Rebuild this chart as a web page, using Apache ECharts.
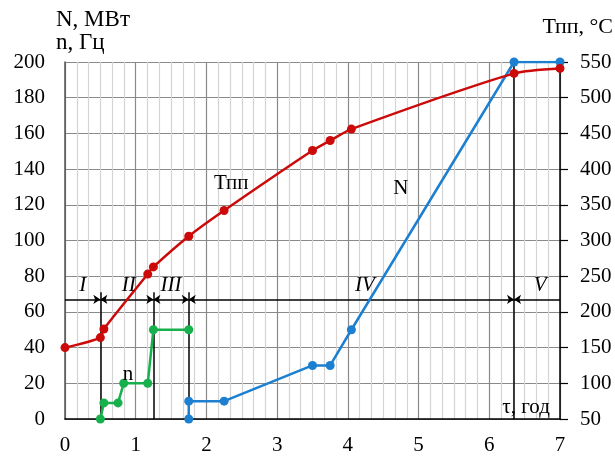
<!DOCTYPE html>
<html>
<head>
<meta charset="utf-8">
<script src="https://cdn.jsdelivr.net/npm/echarts@6/dist/echarts.min.js"></script>
<style>
  html, body { margin: 0; padding: 0; background: #fff; }
  #chart { width: 615px; height: 458px; }
</style>
</head>
<body>
<div id="chart"></div>
<script>
// Start-up of the unit: steam temperature, rotor speed and power versus time
const tppTime = [0, 0.5, 0.55, 1.17, 1.25, 1.75, 2.25, 3.5, 3.75, 4.05, 6.35, 7];
const tppTemp = [150, 164, 176, 253, 263, 306, 342, 426, 440, 456, 534, 541];

const speedTime = [0.5, 0.55, 0.75, 0.83, 1.17, 1.25, 1.75];
const speedHz = [0, 9, 9, 20, 20, 50, 50];

const powerTime = [1.75, 1.75, 2.25, 3.5, 3.75, 4.05, 6.35, 7];
const powerMW = [0, 10, 10, 30, 30, 50, 200, 200];

// Stage boundaries and the stage bar level (left axis units)
const stageBounds = [0.5, 1.25, 1.75, 6.35];
const stageFullHeight = [false, false, false, true];
const stageLevel = 67;
const stageTickTop = 71;
const stageNames = ['I', 'II', 'III', 'IV', 'V'];
const stageLabelX = [0.25, 0.9, 1.5, 4.24, 6.72];
const stageLabelY = 75;

// Axis ranges and ticks
const xTicks = [0, 1, 2, 3, 4, 5, 6, 7];
const leftTicks = [0, 20, 40, 60, 80, 100, 120, 140, 160, 180, 200];
const rightTicks = [50, 100, 150, 200, 250, 300, 350, 400, 450, 500, 550];

// Curve captions placed in data coordinates
const captions = [
  { text: 'Тпп', x: 2.35, y: 132 },
  { text: 'n', x: 0.89, y: 25 },
  { text: 'N', x: 4.75, y: 129 },
  { text: 'τ, год', x: 6.52, y: 6.5 }
];

const RED = '#cc0a0a';
const BLUE = '#1c7fd0';
const GREEN = '#16b04c';
const FONT = '"Liberation Serif", "Times New Roman", serif';

const zip = (xs, ys) => xs.map((x, i) => [x, ys[i]]);

const chart = echarts.init(document.getElementById('chart'), null, { renderer: 'canvas' });

// Stage bar: segments between boundaries, arrowheads pointing at each boundary
const barEdges = [0].concat(stageBounds, [7]);
const stageSegments = [];
for (let i = 0; i < barEdges.length - 1; i++) {
  stageSegments.push([
    { coord: [barEdges[i], stageLevel], symbol: i === 0 ? 'none' : 'arrow' },
    { coord: [barEdges[i + 1], stageLevel], symbol: i === barEdges.length - 2 ? 'none' : 'arrow' }
  ]);
}
const boundaryLines = stageBounds.map((b, i) => [
  { coord: [b, 0], symbol: 'none' },
  { coord: [b, stageFullHeight[i] ? 200 : stageTickTop], symbol: 'none' }
]);

const lineSeries = (name, data, color, yAxisIndex, smooth) => ({
  name,
  type: 'line',
  data,
  yAxisIndex,
  smooth,
  symbol: 'circle',
  symbolSize: 9,
  lineStyle: { color, width: 2.5 },
  itemStyle: { color },
  z: 5,
  animation: false
});

chart.setOption({
  animation: false,
  grid: { left: 65, right: 55, top: 62, bottom: 39 },
  xAxis: {
    type: 'value',
    min: xTicks[0],
    max: xTicks[xTicks.length - 1],
    interval: 1,
    axisLine: { show: true, onZero: false, lineStyle: { color: '#000', width: 1.5 } },
    axisTick: { show: false },
    axisLabel: { color: '#000', fontFamily: FONT, fontSize: 21, margin: 16 },
    splitLine: { show: true, lineStyle: { color: '#8a8a8a', width: 1.2 } },
    minorTick: { show: false, splitNumber: 6 },
    minorSplitLine: { show: true, lineStyle: { color: '#d4d4d4', width: 1.2 } }
  },
  yAxis: [
    {
      type: 'value',
      min: leftTicks[0],
      max: leftTicks[leftTicks.length - 1],
      interval: 20,
      position: 'left',
      axisLine: { show: true, lineStyle: { color: '#555', width: 1.5 } },
      axisTick: { show: false },
      axisLabel: { color: '#000', fontFamily: FONT, fontSize: 21, margin: 20 },
      splitLine: { show: true, lineStyle: { color: '#8a8a8a', width: 1.2 } }
    },
    {
      type: 'value',
      min: rightTicks[0],
      max: rightTicks[rightTicks.length - 1],
      interval: 50,
      position: 'right',
      axisLine: { show: true, lineStyle: { color: '#000', width: 1.5 } },
      axisTick: { show: true, inside: false, length: 8, lineStyle: { color: '#000', width: 1.2 } },
      axisLabel: { color: '#000', fontFamily: FONT, fontSize: 21, margin: 20 },
      splitLine: { show: false }
    }
  ],
  series: [
    {
      name: 'stages',
      type: 'line',
      data: [],
      yAxisIndex: 0,
      silent: true,
      markLine: {
        silent: true,
        animation: false,
        symbolSize: [7, 7],
        label: { show: false },
        lineStyle: { color: '#000', width: 1.5, type: 'solid' },
        data: stageSegments.concat(boundaryLines)
      },
      z: 3
    },
    lineSeries('N', zip(powerTime, powerMW), BLUE, 0, false),
    lineSeries('n', zip(speedTime, speedHz), GREEN, 0, false),
    lineSeries('Тпп', zip(tppTime, tppTemp), RED, 1, 0.25)
  ]
});

// Captions, stage numerals and axis titles
const toPx = (x, y) => chart.convertToPixel({ xAxisIndex: 0, yAxisIndex: 0 }, [x, y]);
const graphics = [];
captions.forEach(c => {
  const p = toPx(c.x, c.y);
  graphics.push({
    type: 'text', x: p[0], y: p[1], z: 10,
    style: { text: c.text, fill: '#000', font: '21px ' + FONT, align: 'center', verticalAlign: 'middle' }
  });
});
stageNames.forEach((s, i) => {
  const p = toPx(stageLabelX[i], stageLabelY);
  graphics.push({
    type: 'text', x: p[0], y: p[1], z: 10,
    style: { text: s, fill: '#000', font: 'italic 21px ' + FONT, align: 'center', verticalAlign: 'middle' }
  });
});
graphics.push({
  type: 'text', left: 56, top: 8, z: 10,
  style: { text: 'N, МВт\nn, Гц', fill: '#000', font: '23px ' + FONT, lineHeight: 23 }
});
graphics.push({
  type: 'text', right: 2, top: 16, z: 10,
  style: { text: 'Тпп, °C', fill: '#000', font: '22px ' + FONT }
});
chart.setOption({ graphic: graphics });
</script>
</body>
</html>
